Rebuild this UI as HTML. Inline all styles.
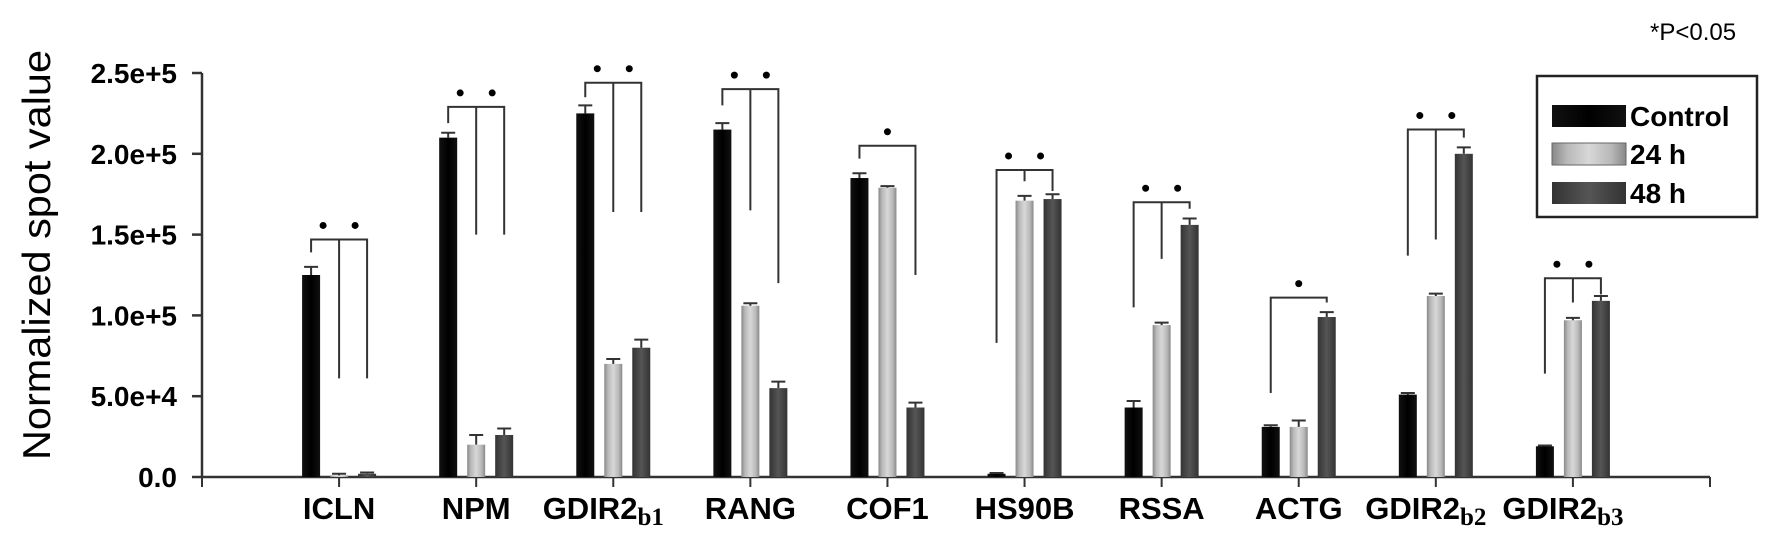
<!DOCTYPE html>
<html><head><meta charset="utf-8"><style>
body{margin:0;background:#fff;}
svg{display:block;font-family:"Liberation Sans",Arial,sans-serif;}
</style></head><body>
<svg id="chart" width="1772" height="544" viewBox="0 0 1772 544">
<defs>
<linearGradient id="gBlack" x1="0" x2="1"><stop offset="0" stop-color="#111"/><stop offset="0.5" stop-color="#000"/><stop offset="1" stop-color="#111"/></linearGradient>
<linearGradient id="gLight" x1="0" x2="1"><stop offset="0" stop-color="#888"/><stop offset="0.2" stop-color="#b8b8b8"/><stop offset="0.5" stop-color="#d8d8d8"/><stop offset="0.8" stop-color="#b8b8b8"/><stop offset="1" stop-color="#888"/></linearGradient>
<linearGradient id="gDark" x1="0" x2="1"><stop offset="0" stop-color="#333"/><stop offset="0.5" stop-color="#555"/><stop offset="1" stop-color="#333"/></linearGradient>
</defs>
<text transform="translate(50,255) rotate(-90)" text-anchor="middle" font-size="39" textLength="410" lengthAdjust="spacingAndGlyphs">Normalized spot value</text>
<text x="1650" y="40" font-size="24">*P&lt;0.05</text>
<g>
<rect x="1537" y="76" width="220" height="141" fill="#fff" stroke="#222" stroke-width="2.5"/>
<rect x="1552" y="105" width="74" height="22" fill="url(#gBlack)"/>
<rect x="1552" y="143" width="74" height="22" fill="url(#gLight)" stroke="#666"/>
<rect x="1552" y="182" width="74" height="22" fill="url(#gDark)"/>
<text x="1630" y="126" font-size="28" font-weight="bold">Control</text>
<text x="1630" y="164" font-size="28" font-weight="bold">24 h</text>
<text x="1630" y="203" font-size="28" font-weight="bold">48 h</text>
</g>
<g id="plot"></g>
</svg>
<script>
const categories = ["ICLN","NPM","GDIR2","RANG","COF1","HS90B","RSSA","ACTG","GDIR2","GDIR2"];
const subscripts = ["","","b1","","","","","","b2","b3"];
const controlVals = [125000,210000,225000,215000,185000,2000,43000,31000,51000,19000];
const h24Vals = [1000,20000,70000,106000,179000,171000,94000,31000,112000,97000];
const h48Vals = [2000,26000,80000,55000,43000,172000,156000,99000,200000,109000];
const controlErr = [5000,3000,5000,4000,3000,500,4000,1000,1000,500];
const h24Err = [1000,6000,3000,1500,1000,3000,1500,4000,1500,1500];
const h48Err = [800,4000,5000,4000,3000,3000,4000,3000,4000,3000];
const yTicks = [0,50000,100000,150000,200000,250000];
const yTickLabels = ["0.0","5.0e+4","1.0e+5","1.5e+5","2.0e+5","2.5e+5"];
// significance brackets: horizontal level, leg ends (control, 24h, 48h; null = no leg), star count
const bracketTop = [147000,229000,244000,240000,205000,190000,170000,111000,215000,123000];
const legCtrl = [139000,219000,235000,230000,197000,83000,105000,52000,137000,64000];
const leg24 = [61000,150000,164000,165000,null,183000,135000,null,147000,108000];
const leg48 = [61000,150000,164000,120000,125000,177000,166000,108000,210000,113000];
const starCount = [2,2,2,2,1,2,2,1,2,2];

const NS="http://www.w3.org/2000/svg";
const plot=document.getElementById('plot');
const x0=202, x1=1710, y0=477, yMax=250000, yTopPx=73;
const step=(x1-x0)/11;
const X=i=>x0+step*(i+1);
const Y=v=>y0-(v/yMax)*(y0-yTopPx);
function mk(tag,attrs){const e=document.createElementNS(NS,tag);for(const k in attrs)e.setAttribute(k,attrs[k]);plot.appendChild(e);return e;}

let ax=mk('line',{x1:x0,y1:Y(0),x2:x0,y2:Y(yMax),stroke:'#333','stroke-width':2.5});


let ax2=mk('line',{x1:x0,y1:y0,x2:x1,y2:y0,stroke:'#333','stroke-width':2.5});


yTicks.forEach((t,i)=>{
  const tk=mk('line',{x1:x0-10,y1:Y(t),x2:x0,y2:Y(t),stroke:'#333','stroke-width':2.5});
  
  
  const lb=mk('text',{x:177,y:Y(t)+10,'text-anchor':'end','font-size':28,'font-weight':'bold'});
  lb.textContent=yTickLabels[i];
  
  
});
for(let i=-1;i<=10;i++){
  const tk=mk('line',{x1:X(i),y1:y0,x2:X(i),y2:y0+10,stroke:'#333','stroke-width':2});
  
  
}
const bw=18, off=28;
const series=[[controlVals,controlErr,'url(#gBlack)',-off,'control'],[h24Vals,h24Err,'url(#gLight)',0,'24h'],[h48Vals,h48Err,'url(#gDark)',off,'48h']];
categories.forEach((c,i)=>{
  series.forEach(([vals,errs,fill,o,nm])=>{
    const cx=X(i)+o, v=vals[i];
    const r=mk('rect',{x:cx-bw/2,y:Y(v),width:bw,height:y0-Y(v),fill:fill});
    
    
    const e=mk('path',{d:`M${cx},${Y(v)} V${Y(v+errs[i])} M${cx-7},${Y(v+errs[i])} H${cx+7}`,stroke:'#333','stroke-width':2,fill:'none'});
    
    
  });
  const lb=mk('text',{x:X(i)+(subscripts[i]?-10:0),y:519,'text-anchor':'middle','font-size':31,'font-weight':'bold'});
  lb.textContent=c;
  if(subscripts[i]){const s=document.createElementNS(NS,'tspan');s.setAttribute('font-size','25');s.setAttribute('dy','6');s.setAttribute('font-family','Liberation Serif, serif');s.setAttribute('font-weight','bold');s.textContent=subscripts[i];lb.appendChild(s);}
  
  
  const xl=X(i)-off, xm=X(i), xr=X(i)+off, yt=Y(bracketTop[i]);
  let d=`M${xl},${Y(legCtrl[i])} V${yt} H${xr} V${Y(leg48[i])}`;
  if(leg24[i]!==null) d+=` M${xm},${yt} V${Y(leg24[i])}`;
  const b=mk('path',{d:d,stroke:'#333','stroke-width':2,fill:'none'});
  
  
  const sy=yt-14;
  const sx = starCount[i]===2 ? [X(i)-off/2-2, X(i)+off/2+2] : [X(i)];
  sx.forEach(px=>{
    const s=mk('circle',{cx:px,cy:sy,r:3.5,fill:'#000'});
    
    
  });
});
</script>
</body></html>
